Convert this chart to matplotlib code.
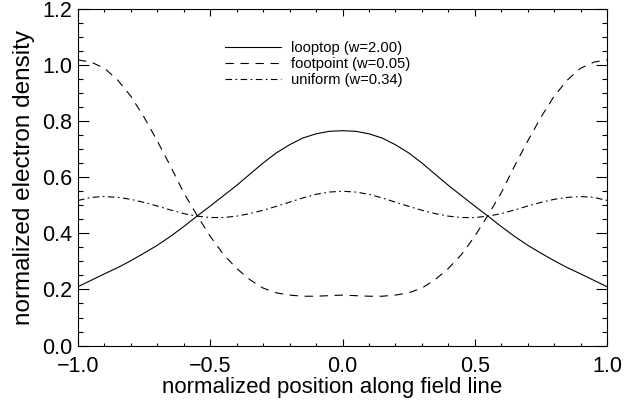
import numpy as np
import matplotlib
matplotlib.use("Agg")
import matplotlib.pyplot as plt
from matplotlib.ticker import MultipleLocator

# === Data (right half; curves are symmetric) ===
x_half = [0.00, 0.05, 0.10, 0.15, 0.20, 0.25, 0.30, 0.35, 0.40, 0.45, 0.50,
          0.55, 0.60, 0.65, 0.70, 0.75, 0.80, 0.85, 0.90, 0.95, 1.00]
looptop_half = [0.767, 0.765, 0.756, 0.741, 0.717, 0.688, 0.652, 0.612, 0.572, 0.535, 0.498,
                0.462, 0.425, 0.390, 0.358, 0.330, 0.303, 0.278, 0.256, 0.233, 0.210]
footpoint_half = [0.180, 0.178, 0.176, 0.176, 0.180, 0.188, 0.205, 0.235, 0.275, 0.325, 0.390,
                  0.465, 0.545, 0.640, 0.730, 0.815, 0.890, 0.948, 0.990, 1.012, 1.020]
uniform_half = [0.551, 0.548, 0.540, 0.527, 0.512, 0.497, 0.483, 0.471, 0.462, 0.457, 0.457,
                0.462, 0.471, 0.484, 0.498, 0.511, 0.522, 0.529, 0.532, 0.529, 0.518]

labels = ["looptop (w=2.00)", "footpoint (w=0.05)", "uniform (w=0.34)"]


def mirror(xs, ys):
    xs = np.asarray(xs)
    ys = np.asarray(ys)
    return np.concatenate([-xs[:0:-1], xs]), np.concatenate([ys[:0:-1], ys])


plt.rcParams['font.family'] = ['Liberation Sans', 'DejaVu Sans']
plt.rcParams['lines.scale_dashes'] = False

fig = plt.figure(figsize=(6.25, 4.04), dpi=100)
ax = fig.add_axes([0.1248, 0.1448, 0.8464, 0.8317])

x, y = mirror(x_half, looptop_half)
ax.plot(x, y, color="black", lw=0.8, linestyle="-", label=labels[0])
x, y = mirror(x_half, footpoint_half)
ax.plot(x, y, color="black", lw=0.8, linestyle=(0, (6.0, 4.8)), label=labels[1])
x, y = mirror(x_half, uniform_half)
ax.plot(x, y, color="black", lw=0.8, linestyle=(0, (4.7, 2.5, 1.2, 2.5)), label=labels[2])

ax.set_xlim(-1.0, 1.0)
ax.set_ylim(0.0, 1.2)
ax.xaxis.set_major_locator(MultipleLocator(0.5))
ax.xaxis.set_minor_locator(MultipleLocator(0.1))
ax.yaxis.set_major_locator(MultipleLocator(0.2))
ax.yaxis.set_minor_locator(MultipleLocator(0.05))
ax.xaxis.set_major_formatter(lambda v, p: f"{v:.1f}".replace("-", "\u2212"))
ax.yaxis.set_major_formatter(lambda v, p: f"{v:.1f}")

ax.tick_params(axis="both", which="both", direction="in", top=True, right=True,
               labelsize=15.5, width=0.8, color="black")
ax.tick_params(axis="x", which="major", length=5.0, pad=7.5)
ax.tick_params(axis="x", which="minor", length=2.5)
ax.tick_params(axis="y", which="major", length=7.6, pad=4.0)
ax.tick_params(axis="y", which="minor", length=3.8)
for s in ax.spines.values():
    s.set_linewidth(0.8)

ax.set_xlabel("normalized position along field line", fontsize=16, labelpad=0)
ax.xaxis.set_label_coords(0.481, -0.094)
ax.set_ylabel("normalized electron density", fontsize=17.5, labelpad=5)

ax.legend(loc="upper left", bbox_to_anchor=(0.278, 0.905), frameon=False,
          fontsize=10.6, handlelength=3.8, handletextpad=0.7, labelspacing=0.12,
          borderpad=0, borderaxespad=0)

fig.savefig("out.png", dpi=100)
